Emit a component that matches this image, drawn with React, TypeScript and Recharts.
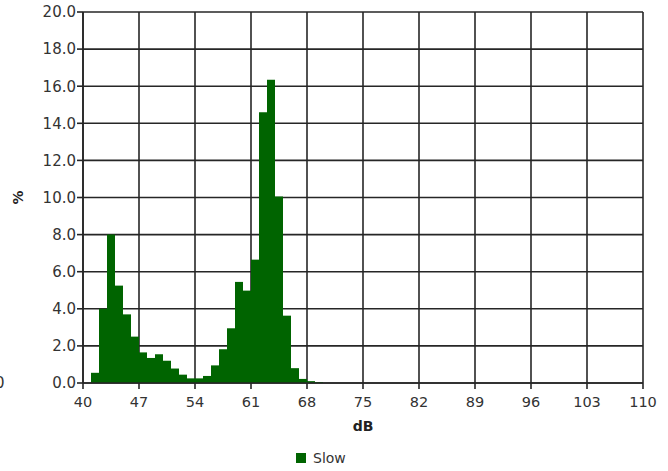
import * as React from 'react';
import {
	Bar,
	BarChart,
	CartesianGrid,
	Legend,
	XAxis,
	YAxis,
} from 'recharts';

// lower edge of each 1 dB bin
const dbBins = [
	41, 42, 43, 44, 45, 46, 47, 48, 49, 50,
	51, 52, 53, 54, 55, 56, 57, 58, 59, 60,
	61, 62, 63, 64, 65, 66, 67, 68, 69,
];
// share of time (%) spent in each bin
const slowPct = [
	0.55, 4.0, 8.0, 5.25, 3.7, 2.5, 1.65, 1.35, 1.55, 1.2,
	0.78, 0.45, 0.25, 0.25, 0.38, 0.95, 1.82, 2.95, 5.45, 4.98,
	6.65, 14.6, 16.35, 10.05, 3.63, 0.8, 0.22, 0.1, 0.05,
];
const dbTicks = [40, 47, 54, 61, 68, 75, 82, 89, 96, 103, 110];
const pctTicks = [0, 2, 4, 6, 8, 10, 12, 14, 16, 18, 20];

const GREEN = '#006400';
const INK = '#262626';
const FONT = '"DejaVu Sans", Verdana, sans-serif';

const rows = dbBins.map((lo, i) => ({
	mid: lo + 0.5,
	Slow: slowPct[i],
}));

const xTickStyle = {fontSize: 14.5, fill: '#333', fontFamily: FONT};
const yTickStyle = {fontSize: 15, fill: '#333', fontFamily: FONT};

function YTitle(props: any) {
	const {x, y, height} = props.viewBox;
	const cx = x - 5;
	const cy = y + height / 2;
	return (
		<text
			x={cx}
			y={cy}
			transform={`rotate(-90, ${cx}, ${cy})`}
			textAnchor="middle"
			dominantBaseline="central"
			fontSize={14}
			fontWeight="bold"
			fontFamily={FONT}
			fill="#222"
		>
			%
		</text>
	);
}

function LegendBox() {
	return (
		<div style={{display: 'flex', alignItems: 'center', height: 20, fontFamily: FONT, fontSize: 14, color: '#333'}}>
			<span style={{width: 10, height: 10, background: GREEN, display: 'inline-block', marginRight: 7}}/>
			<span>Slow</span>
		</div>
	);
}

export default
function App() {
	return (
		<div style={{position: 'absolute', left: 0, top: 0, width: 668, height: 471, background: '#fff'}}>
			<span style={{position: 'absolute', left: -5, top: 374, fontFamily: FONT, fontSize: 15, color: '#333'}}>0</span>
			<BarChart
				width={668}
				height={471}
				data={rows}
				margin={{top: 12, right: 25, bottom: 18, left: 23}}
				barCategoryGap={0}
				barGap={0}
			>
				<CartesianGrid stroke={INK} strokeWidth={1.6}/>
				<XAxis
					dataKey="mid"
					type="number"
					domain={[40, 110]}
					ticks={dbTicks}
					interval={0}
					height={50}
					tickSize={6}
					tickMargin={8}
					tick={xTickStyle}
					axisLine={{stroke: INK, strokeWidth: 1.6}}
					tickLine={{stroke: INK, strokeWidth: 1.6}}
					label={{value: 'dB', position: 'insideBottom', offset: 2, fontSize: 14, fontWeight: 'bold', fill: '#222', fontFamily: FONT}}
				/>
				<YAxis
					type="number"
					domain={[0, 20]}
					ticks={pctTicks}
					interval={0}
					width={60}
					tickSize={6}
					tickMargin={1}
					tick={yTickStyle}
					tickFormatter={(v: number) => v.toFixed(1)}
					axisLine={{stroke: INK, strokeWidth: 1.6}}
					tickLine={{stroke: INK, strokeWidth: 1.6}}
					label={{content: YTitle}}
				/>
				<Legend
					content={LegendBox}
					wrapperStyle={{left: 296, bottom: 3, width: 'auto'}}
				/>
				<Bar dataKey="Slow" fill={GREEN} isAnimationActive={false}/>
			</BarChart>
		</div>
	);
}
